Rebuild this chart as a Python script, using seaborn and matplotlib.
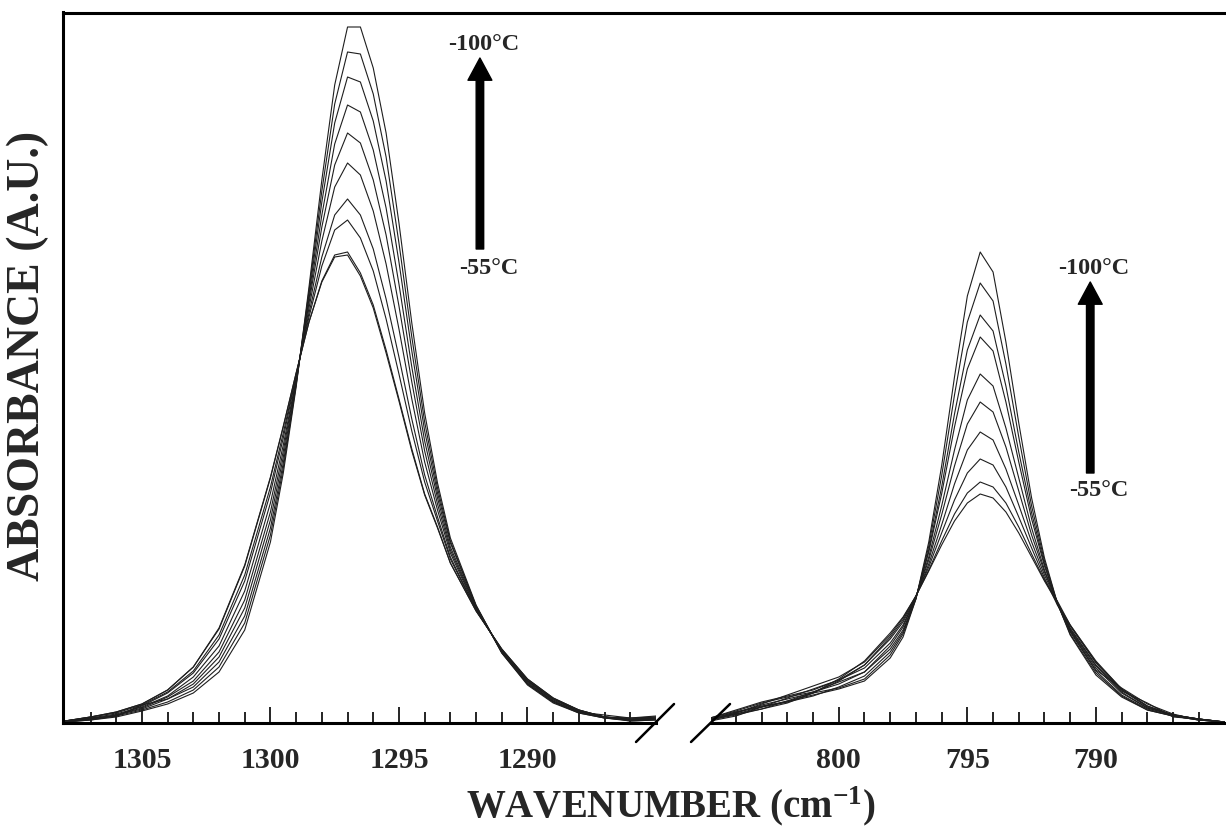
import matplotlib
matplotlib.use("Agg")
import matplotlib.pyplot as plt
from matplotlib.lines import Line2D
from matplotlib.ticker import FixedLocator
import numpy as np
import pandas as pd
import seaborn as sns

# ---------------- data (absorbance in arbitrary units) ----------------
temperatures = ["-100", "-95", "-90", "-85", "-80", "-75", "-70", "-65", "-60", "-55"]

wn_left = [1308, 1307, 1306, 1305, 1304, 1303, 1302, 1301, 1300, 1299.5, 1299, 1298.5,
           1298, 1297.5, 1297, 1296.5, 1296, 1295.5, 1295, 1294.5, 1294, 1293.5, 1293,
           1292, 1291, 1290, 1289, 1288, 1287, 1286, 1285]

left_m100 = [1, 3, 6, 12, 19, 30, 51, 93, 181, 250, 336, 436, 543, 638, 696, 696, 655, 590, 500, 400, 310, 240, 185, 118, 70, 38, 20, 10, 5, 3, 4]
left_m95 = [1, 3, 7, 13, 21, 33, 56, 100, 188, 255, 338, 432, 532, 619, 671, 669, 629, 566, 480, 386, 301, 235, 182, 117, 70, 39, 21, 10, 5, 2, 3]
left_m90 = [1, 4, 7, 18, 24, 36, 61, 107, 195, 260, 339, 428, 521, 600, 646, 641, 602, 542, 461, 372, 292, 230, 180, 117, 71, 39, 21, 11, 6, 4, 6]
left_m85 = [1, 4, 8, 14, 24, 39, 66, 115, 203, 266, 341, 424, 508, 579, 618, 611, 573, 515, 439, 356, 282, 225, 176, 116, 71, 40, 22, 11, 5, 3, 5]
left_m80 = [2, 4, 8, 15, 26, 42, 71, 123, 211, 272, 343, 420, 496, 558, 590, 580, 543, 488, 417, 341, 272, 219, 173, 115, 72, 41, 22, 11, 8, 5, 6]
left_m75 = [2, 5, 9, 16, 27, 46, 77, 132, 220, 278, 344, 415, 482, 536, 560, 548, 512, 459, 394, 324, 261, 213, 170, 114, 72, 42, 23, 12, 6, 3, 4]
left_m70 = [2, 5, 7, 17, 30, 50, 84, 142, 230, 285, 347, 410, 466, 508, 524, 508, 474, 424, 366, 304, 248, 206, 166, 113, 73, 42, 24, 12, 6, 4, 5]
left_m65 = [2, 6, 10, 18, 31, 52, 88, 148, 236, 290, 348, 406, 457, 493, 503, 485, 452, 404, 349, 292, 241, 202, 164, 113, 73, 43, 24, 13, 6, 2, 3]
left_m60 = [2, 6, 11, 19, 33, 56, 94, 157, 245, 296, 350, 401, 442, 468, 471, 450, 418, 373, 324, 274, 229, 196, 160, 112, 74, 44, 25, 13, 6, 5, 7]
left_m55 = [2, 6, 11, 19, 33, 56, 95, 158, 246, 297, 350, 401, 441, 466, 468, 447, 415, 370, 322, 272, 228, 195, 160, 112, 74, 44, 25, 13, 6, 3, 4]

wn_right = [805, 804, 803, 802, 801, 800, 799, 798, 797.5, 797, 796.5, 796, 795.5, 795,
            794.5, 794, 793.5, 793, 792.5, 792, 791.5, 791, 790, 789, 788, 787, 786, 785]

right_m100 = [3, 9, 16, 22, 28, 34, 42, 65, 86, 124, 181, 257, 346, 427, 471, 451, 381, 300, 225, 165, 120, 88, 48, 26, 13, 7, 3, 1]
right_m95 = [3, 10, 18, 24, 30, 35, 44, 68, 89, 124, 177, 247, 328, 401, 440, 422, 359, 286, 217, 162, 120, 89, 50, 27, 13, 7, 3, 1]
right_m90 = [4, 11, 17, 21, 27, 36, 47, 71, 91, 125, 173, 236, 309, 373, 408, 392, 337, 271, 210, 159, 119, 91, 52, 28, 14, 7, 3, 1]
right_m85 = [3, 8, 14, 22, 31, 41, 51, 74, 93, 125, 171, 229, 296, 354, 386, 372, 321, 261, 204, 157, 120, 92, 53, 35, 19, 9, 3, 1]
right_m80 = [5, 12, 20, 26, 31, 39, 51, 77, 96, 126, 166, 217, 273, 323, 349, 337, 295, 245, 195, 153, 120, 93, 55, 30, 15, 8, 4, 1]
right_m75 = [2, 7, 16, 25, 34, 43, 55, 80, 98, 126, 163, 208, 257, 299, 321, 311, 276, 232, 188, 151, 121, 94, 57, 31, 15, 8, 4, 1]
right_m70 = [4, 9, 14, 20, 30, 42, 58, 84, 101, 126, 159, 198, 239, 273, 291, 283, 254, 218, 181, 148, 120, 95, 58, 32, 20, 6, 4, 1]
right_m65 = [5, 13, 21, 27, 33, 43, 58, 86, 103, 127, 156, 190, 223, 250, 264, 258, 236, 206, 175, 145, 118, 97, 60, 33, 16, 8, 4, 1]
right_m60 = [3, 10, 19, 28, 37, 46, 61, 88, 105, 127, 153, 182, 209, 230, 241, 236, 220, 196, 169, 143, 122, 98, 61, 34, 17, 8, 4, 1]
right_m55 = [4, 11, 16, 21, 30, 44, 62, 90, 106, 127, 152, 178, 202, 220, 229, 225, 211, 190, 166, 142, 120, 98, 62, 34, 17, 8, 4, 1]

left_series = [left_m100, left_m95, left_m90, left_m85, left_m80,
               left_m75, left_m70, left_m65, left_m60, left_m55]
right_series = [right_m100, right_m95, right_m90, right_m85, right_m80,
                right_m75, right_m70, right_m65, right_m60, right_m55]

left_major_ticks = [1305, 1300, 1295, 1290]
right_major_ticks = [800, 795, 790]


def long_form(wn, series):
    rows = []
    for t, vals in zip(temperatures, series):
        assert len(vals) == len(wn)
        for x, y in zip(wn, vals):
            rows.append({"wavenumber": x, "absorbance": y, "T": t})
    return pd.DataFrame(rows)


df_left = long_form(wn_left, left_series)
df_right = long_form(wn_right, right_series)

# ---------------- style ----------------
sns.set_style("white")
plt.rcParams["font.family"] = ["Liberation Serif", "DejaVu Serif"]
plt.rcParams["font.weight"] = "bold"
plt.rcParams["mathtext.fontset"] = "custom"
plt.rcParams["mathtext.rm"] = "Liberation Serif:bold"
plt.rcParams["mathtext.bf"] = "Liberation Serif:bold"
plt.rcParams["mathtext.it"] = "Liberation Serif:bold:italic"

W, H = 1226, 827
fig = plt.figure(figsize=(W / 100, H / 100), dpi=100)
fig.patch.set_facecolor("white")

ax1 = fig.add_axes([63 / W, (H - 723) / H, (656 - 63) / W, 711 / H])
ax2 = fig.add_axes([711 / W, (H - 723) / H, (W - 711) / W, 711 / H])

pal = ["#1e1e1e"] * len(temperatures)
sns.lineplot(data=df_left, x="wavenumber", y="absorbance", hue="T", palette=pal,
             linewidth=0.8, legend=False, errorbar=None, ax=ax1)
sns.lineplot(data=df_right, x="wavenumber", y="absorbance", hue="T", palette=pal,
             linewidth=0.8, legend=False, errorbar=None, ax=ax2)

ax1.set_xlim(1308.07, 1285.0)
ax2.set_xlim(804.97, 784.94)
for ax in (ax1, ax2):
    ax.set_ylim(0, 711)
    ax.set_xlabel("")
    ax.set_ylabel("")
    ax.set_facecolor("white")
    ax.tick_params(axis="y", left=False, labelleft=False, right=False)
    ax.tick_params(axis="x", which="major", direction="in", length=11.5, width=1.2,
                   pad=17, labelsize=21.5, bottom=True, top=False, color="black")
    ax.tick_params(axis="x", which="minor", direction="in", length=7.9, width=1.2,
                   bottom=True, top=False, color="black")
    for s in ("top", "right", "left", "bottom"):
        ax.spines[s].set_visible(False)
    ax.spines["bottom"].set_visible(True)
    ax.spines["bottom"].set_linewidth(2.2)
    ax.spines["bottom"].set_color("black")

ax1.spines["left"].set_visible(True)
ax1.spines["left"].set_linewidth(2.2)
ax1.spines["left"].set_color("black")

ax1.set_xticks(left_major_ticks)
ax1.xaxis.set_minor_locator(FixedLocator(list(range(1286, 1308))))
ax2.set_xticks(right_major_ticks)
ax2.xaxis.set_minor_locator(FixedLocator(list(range(786, 805))))
for ax in (ax1, ax2):
    for lbl in ax.get_xticklabels():
        lbl.set_fontweight("bold")

# continuous top frame line across both panels
fig.add_artist(Line2D([63 / W, 1.0], [(H - 12.5) / H] * 2, color="black", lw=2.2,
                      solid_capstyle="projecting"))

# axis break marks
brk = dict(color="black", lw=1.8, clip_on=False)
ax1.plot([0.9663, 1.0304], [-0.0267, 0.0267], transform=ax1.transAxes, **brk)
ax2.plot([-0.0388, 0.0369], [-0.0267, 0.0267], transform=ax2.transAxes, **brk)

# temperature arrows and labels
arrow_style = "simple,head_length=0.8,head_width=0.86,tail_width=0.27"
left_arrow = dict(x=1291.85, y0=474, y1=665)
right_arrow = dict(x=790.22, y0=250, y1=441)
for ax, a in ((ax1, left_arrow), (ax2, right_arrow)):
    ax.annotate("", xy=(a["x"], a["y1"]), xytext=(a["x"], a["y0"]),
                arrowprops=dict(arrowstyle=arrow_style, color="black",
                                mutation_scale=20, shrinkA=0, shrinkB=0))

lab = dict(ha="center", va="center", fontsize=17.5, fontweight="bold")
ax1.text(1291.69, 678, "-100°C", **lab)
ax1.text(1291.5, 455, "-55°C", **lab)
ax2.text(790.1, 455, "-100°C", **lab)
ax2.text(789.87, 232, "-55°C", **lab)

# axis titles
fig.text(671 / W, (H - 817) / H, r"WAVENUMBER (cm$^{-1}$)", ha="center", va="baseline",
         fontsize=28, fontweight="bold")
fig.text(28 / W, (H - 356) / H, "ABSORBANCE (A.U.)", rotation=90, ha="center",
         va="center", fontsize=33, fontweight="bold")

fig.savefig("out.png", dpi=100, facecolor="white")
